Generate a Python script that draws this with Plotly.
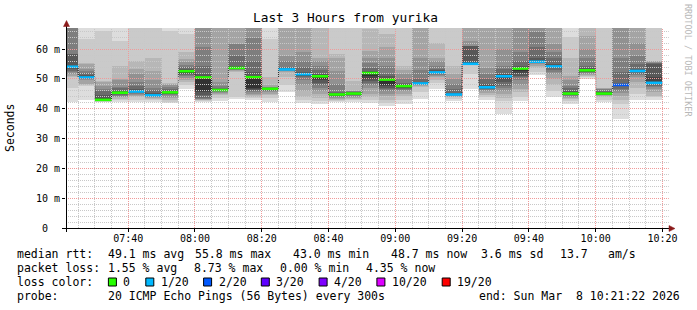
import math
import plotly.graph_objects as go
import pandas as pd

# ---------------- data ----------------
title_text = "Last 3 Hours from yurika"
x_start = "2026-03-08 07:21:22"
x_end = "2026-03-08 10:21:22"
# end time of each 5-minute measurement column
col_end = pd.date_range("2026-03-08 07:25", "2026-03-08 10:20", freq="5min")

median_ms = [54.1, 50.5, 43.0, 45.4, 45.8, 44.5, 45.5, 52.6, 50.5, 46.3,
             53.7, 50.6, 46.7, 53.2, 51.6, 50.9, 44.8, 45.1, 52.0, 49.8,
             47.6, 48.5, 52.2, 44.8, 55.1, 47.2, 50.9, 53.5, 55.8, 54.2,
             45.1, 52.9, 45.1, 48.0, 52.7, 48.7]
loss_count = [1, 1, 0, 0, 1, 1, 0, 0, 0, 0, 0, 0, 0, 1, 1, 0, 0, 0, 0, 0,
              0, 1, 1, 1, 1, 1, 1, 0, 1, 1, 0, 0, 0, 2, 1, 1]

# received ping round-trip times of each column (ms)
pings_ms = [
    [42.2, 47.0, 50.6, 51.0, 51.7, 52.2, 52.8, 53.3, 53.8, 54.1, 54.5, 58.3, 58.5, 69, 70, 71, 72, 74, 76],
    [43.0, 47.7, 48.0, 48.3, 49.6, 49.9, 50.1, 50.3, 50.4, 50.5, 50.7, 51.2, 52.0, 52.8, 53.2, 55.0, 55.4, 63.4, 69],
    [42.2, 42.4, 42.6, 42.7, 42.8, 42.85, 42.9, 42.95, 43.0, 43.0, 43.0, 43.5, 44.5, 46.0, 46.6, 47.5, 49.0, 49.4, 66.0, 69],
    [42.2, 42.8, 43.3, 43.8, 44.0, 44.4, 44.7, 45.0, 45.2, 45.3, 45.4, 45.6, 46.0, 47.0, 47.4, 49.5, 50.0, 54.4, 62.8, 69],
    [42.2, 43.0, 43.8, 44.2, 44.6, 45.0, 45.3, 45.5, 45.7, 45.8, 46.0, 46.6, 47.7, 49.0, 51.6, 53.5, 56.1, 68.5, 70],
    [42.3, 42.9, 43.3, 43.6, 43.9, 44.1, 44.2, 44.3, 44.4, 44.5, 44.8, 45.2, 46.2, 47.1, 49.5, 52.7, 57.2, 68.5, 70],
    [41.8, 42.4, 43.0, 43.6, 44.0, 44.5, 44.8, 45.0, 45.2, 45.4, 45.5, 45.7, 46.0, 46.5, 47.2, 48.0, 48.4, 48.8, 66.0, 69],
    [46.8, 48.0, 49.0, 49.6, 50.2, 51.0, 51.4, 51.7, 52.0, 52.3, 52.6, 52.9, 53.3, 54.0, 54.6, 55.6, 56.6, 58.9, 65.0, 69],
    [42.2, 42.5, 42.8, 43.0, 43.2, 43.4, 43.6, 44.5, 45.5, 46.0, 50.5, 50.8, 51.6, 54.4, 60.6, 69, 70, 72, 74, 76],
    [42.5, 43.5, 44.5, 45.0, 45.3, 45.6, 45.8, 46.0, 46.1, 46.2, 46.3, 46.5, 46.8, 47.1, 47.5, 49.0, 69, 70, 72, 74],
    [43.2, 44.0, 52.5, 52.7, 52.9, 53.0, 53.2, 53.3, 53.5, 53.6, 53.7, 54.0, 54.4, 57.8, 61.7, 61.8, 69, 71, 73, 75],
    [43.0, 43.5, 44.0, 44.5, 45.0, 45.5, 45.8, 46.2, 46.5, 47.0, 50.6, 51.0, 52.2, 56.1, 63.9, 69, 70, 72, 74, 76],
    [42.4, 43.5, 44.5, 45.0, 45.5, 45.9, 46.1, 46.3, 46.5, 46.6, 46.7, 46.9, 47.0, 47.1, 47.2, 47.4, 48.0, 50.5, 63.4, 69],
    [45.5, 48.0, 50.5, 52.4, 52.6, 52.8, 52.9, 53.0, 53.1, 53.2, 53.4, 53.8, 54.1, 56.0, 57.8, 69, 70, 72, 74],
    [42.0, 43.0, 44.0, 46.0, 48.0, 49.5, 50.5, 51.0, 51.3, 51.6, 51.9, 52.5, 54.0, 56.1, 58.9, 69, 70, 72, 74],
    [41.5, 42.5, 43.5, 45.0, 46.0, 47.0, 48.0, 48.8, 49.5, 50.0, 50.9, 51.2, 51.6, 53.0, 54.4, 56.0, 57.2, 69, 70, 72],
    [42.2, 42.6, 43.0, 43.4, 43.7, 44.0, 44.2, 44.4, 44.5, 44.7, 44.8, 45.0, 45.4, 45.5, 48.2, 52.7, 57.2, 58.3, 69, 70],
    [42.2, 42.8, 43.3, 43.7, 44.0, 44.3, 44.5, 44.7, 44.9, 45.0, 45.1, 45.3, 45.5, 45.7, 45.9, 46.0, 46.1, 49.4, 68.5, 70],
    [41.8, 43.0, 44.0, 45.0, 47.0, 48.0, 48.8, 49.4, 50.0, 51.0, 52.0, 52.3, 52.8, 53.8, 55.5, 57.2, 59.4, 66.7, 68.5, 70],
    [41.0, 42.0, 43.0, 44.3, 45.0, 45.8, 46.5, 47.1, 47.5, 48.0, 49.8, 50.3, 51.0, 51.6, 54.4, 57.0, 60.6, 65.0, 68.5, 70],
    [41.5, 43.0, 44.3, 45.0, 45.8, 46.3, 46.8, 47.1, 47.3, 47.5, 47.6, 47.9, 48.4, 48.8, 50.0, 51.6, 53.0, 54.4, 68.5, 70],
    [43.2, 45.5, 47.3, 47.8, 48.0, 48.1, 48.2, 48.3, 48.4, 48.5, 48.7, 49.0, 49.9, 53.0, 57.2, 69, 70, 72, 74],
    [46.5, 48.5, 49.5, 50.5, 51.0, 51.5, 51.8, 52.0, 52.1, 52.2, 52.5, 53.0, 53.5, 54.4, 56.0, 57.2, 62.0, 68.5, 70],
    [42.7, 43.3, 43.8, 44.1, 44.3, 44.5, 44.6, 44.7, 44.75, 44.8, 45.0, 45.4, 46.5, 48.2, 50.0, 51.6, 54.4, 68.5, 70],
    [46.5, 51.6, 54.6, 54.7, 54.8, 54.9, 54.95, 55.0, 55.05, 55.1, 55.5, 61.0, 61.1, 61.2, 62.8, 69, 70, 72, 74],
    [42.9, 43.8, 44.5, 45.4, 45.8, 46.2, 46.6, 46.8, 47.0, 47.2, 47.5, 48.2, 50.0, 51.6, 53.8, 69, 70, 72, 74],
    [38.2, 42.6, 43.5, 44.9, 46.0, 47.0, 47.7, 49.0, 50.0, 50.9, 51.3, 51.6, 53.3, 54.4, 60.0, 69, 70, 72, 74],
    [42.6, 44.0, 45.5, 46.6, 48.0, 49.5, 50.5, 51.0, 52.0, 52.9, 53.5, 53.8, 54.4, 56.0, 58.9, 69, 70, 72, 74, 76],
    [51.5, 52.5, 53.8, 54.5, 55.0, 55.3, 55.5, 55.6, 55.7, 55.8, 56.3, 57.2, 60.6, 65.6, 69, 70, 72, 74, 76],
    [43.8, 46.0, 48.0, 50.0, 51.6, 52.5, 53.0, 53.6, 54.0, 54.2, 54.5, 55.0, 57.0, 58.9, 61.7, 69, 70, 72, 74],
    [41.5, 42.5, 43.2, 43.6, 44.0, 44.3, 44.5, 44.7, 44.9, 45.0, 45.1, 45.4, 46.0, 47.0, 47.7, 49.5, 51.0, 57.2, 64.0, 69],
    [49.9, 50.5, 51.0, 51.5, 51.8, 52.0, 52.2, 52.4, 52.6, 52.7, 52.9, 53.2, 53.8, 54.4, 57.2, 60.0, 64.5, 69, 70, 72],
    [42.2, 43.0, 43.8, 44.2, 44.5, 44.7, 44.8, 44.9, 45.0, 45.05, 45.1, 45.3, 45.5, 46.0, 46.5, 46.8, 47.0, 47.1, 68.5, 70],
    [36.5, 41.5, 43.0, 44.3, 45.2, 46.0, 46.8, 47.5, 47.8, 48.0, 48.3, 52.2, 57.2, 69, 70, 72, 74, 76],
    [42.9, 44.9, 47.1, 49.0, 50.5, 51.3, 51.8, 52.2, 52.5, 52.7, 53.0, 53.5, 55.0, 57.8, 62.0, 69, 70, 72, 74],
    [42.9, 43.8, 44.3, 45.5, 46.6, 47.2, 47.8, 48.3, 48.5, 48.7, 50.5, 55.0, 55.2, 55.5, 55.8, 56.0, 56.1, 68.5, 70],
]

y_tickvals = [0, 10, 20, 30, 40, 50, 60]
y_ticktext = ["0\u00a0\u00a0", "10 m", "20 m", "30 m", "40 m", "50 m", "60 m"]
x_tickvals = pd.date_range("2026-03-08 07:40", "2026-03-08 10:20", freq="20min")
x_ticktext = ["07:40", "08:00", "08:20", "08:40", "09:00", "09:20", "09:40", "10:00", "10:20"]

loss_levels = [0, 1, 2, 3, 4, 10, 19]
loss_labels = ["0", "1/20", "2/20", "3/20", "4/20", "10/20", "19/20"]
loss_colors = ["#26ff00", "#00b8ff", "#0059ff", "#5e00ff", "#7e00ff", "#dd00ff", "#ff0000"]

rtt_stats = ["49.1 ms avg", "55.8 ms max", "43.0 ms min", "48.7 ms now", "3.6 ms sd", "13.7", "am/s"]
loss_stats = ["1.55 % avg", "8.73 % max", "0.00 % min", "4.35 % now"]
probe_text = "20 ICMP Echo Pings (56 Bytes) every 300s"
end_text = "end: Sun Mar\u00a0\u00a08 10:21:22 2026"

# ---------------- geometry ----------------
W, H = 697, 310
L, R, T, B = 66, 667, 28, 228
YMAX = 67.1
MONO = "DejaVu Sans Mono"
t0 = pd.Timestamp(x_start)
t1 = pd.Timestamp(x_end)


def px(xp):
    return (xp - L) / (R - L)


def py(yp):
    return (B - yp) / (B - T)


def crisp_x(t):
    xp = L + (t - t0) / (t1 - t0) * (R - L)
    return px(math.floor(xp) + 0.5)


def crisp_y(v):
    yp = B - v / YMAX * (B - T)
    return py(math.floor(yp) + 0.5)


step = pd.Timedelta(minutes=5)
col_start = col_end - step
col_center = col_end - step / 2

fig = go.Figure()

# ---------------- smoke ----------------
n_levels = 10
for i in range(1, n_levels + 1):
    bases, heights = [], []
    for s in pings_ms:
        s = sorted(s)
        n = len(s)
        if i <= n // 2:
            lo, hi = s[i - 1], min(s[n - i], YMAX + 2)
            bases.append(lo)
            heights.append(hi - lo)
        else:
            bases.append(None)
            heights.append(None)
    g = int(190 / 10 * (10 - i)) + 50
    col = "#%02x%02x%02x" % (g, g, g)
    fig.add_trace(go.Bar(x=col_center, y=heights, base=bases, width=step.total_seconds() * 1000,
                         marker=dict(color=col, line=dict(width=0)), hoverinfo="skip",
                         showlegend=False))

# ---------------- median step connector ----------------
fig.add_trace(go.Scatter(x=list(col_start) + [col_end[-1]], y=median_ms + [median_ms[-1]],
                         mode="lines", line=dict(color="#202020", width=1, shape="hv", dash="1px,1px"),
                         hoverinfo="skip", showlegend=False))

# ---------------- coloured medians ----------------
for lv, colr in zip(loss_levels, loss_colors):
    xs, ys = [], []
    for k, (m, lc) in enumerate(zip(median_ms, loss_count)):
        if lc == lv:
            xs += [col_start[k], col_end[k], None]
            ys += [m, m, None]
    if xs:
        fig.add_trace(go.Scatter(x=xs, y=ys, mode="lines", line=dict(color=colr, width=2.6),
                                 hoverinfo="skip", showlegend=False))

shapes = []
# ---------------- grid (above smoke) ----------------
MINOR = "#c8c8c8"
MAJOR = "#f09a9a"
for v in range(2, 67, 2):
    yy = crisp_y(v)
    shapes.append(dict(type="line", xref="paper", yref="paper", x0=0, x1=1.003, y0=yy, y1=yy, layer="above",
                       line=dict(color=MAJOR if v % 10 == 0 else MINOR, width=1, dash="1px,1px")))
grid_x = pd.date_range("2026-03-08 07:25", "2026-03-08 10:20", freq="5min")
for t in grid_x:
    major = (t.minute % 20 == 0)
    xx = crisp_x(t)
    shapes.append(dict(type="line", xref="paper", yref="paper", x0=xx, x1=xx, y0=0, y1=1, layer="above",
                       line=dict(color=MAJOR if major else MINOR, width=1, dash="1px,1px")))

# ---------------- axes lines + arrows ----------------
AX = "#000000"
ARW = "#8b1a1a"
shapes.append(dict(type="line", xref="paper", yref="paper", x0=px(62), x1=px(671), y0=py(228.5), y1=py(228.5),
                   line=dict(color=AX, width=1), layer="above"))
shapes.append(dict(type="line", xref="paper", yref="paper", x0=px(66.5), x1=px(66.5), y0=py(232), y1=py(24),
                   line=dict(color=AX, width=1), layer="above"))
shapes.append(dict(type="path", xref="paper", yref="paper",
                   path="M %f %f L %f %f L %f %f Z" % (px(63.5), py(26.5), px(69.5), py(26.5), px(66.5), py(20.5)),
                   fillcolor=ARW, line=dict(color=ARW, width=0.5), layer="above"))
shapes.append(dict(type="path", xref="paper", yref="paper",
                   path="M %f %f L %f %f L %f %f Z" % (px(669), py(225.5), px(669), py(231.5), px(675), py(228.5)),
                   fillcolor=ARW, line=dict(color=ARW, width=0.5), layer="above"))

annotations = []


def text(s, xp, yp, size=11.5, color="#000000", anchor="left", angle=0):
    annotations.append(dict(text=s.replace(" ", "\u00a0"), xref="paper", yref="paper", x=px(xp), y=py(yp),
                            xanchor=anchor, yanchor="middle", showarrow=False, textangle=angle,
                            font=dict(family=MONO, size=size, color=color), borderpad=0))


text(title_text, 345, 18, size=12.8, anchor="center")
text("Seconds", 10, 128, size=11.5, anchor="center", angle=-90)
text("RRDTOOL / TOBI OETIKER", 688, 60, size=8.5, color="#b8b8b8", anchor="center", angle=90)

# legend line 1
text("median rtt:", 15.5, 254)
for s, xp in zip(rtt_stats, [107, 194, 291.5, 390, 480, 559, 607]):
    text(s, xp, 254)
# legend line 2
text("packet loss:", 15.5, 268)
for s, xp in zip(loss_stats, [107, 193, 279, 365]):
    text(s, xp, 268)
# legend line 3
text("loss color:", 15.5, 282)
for lbl, colr, bx in zip(loss_labels, loss_colors, [108.4, 145.8, 203.6, 261.3, 319.1, 376.9, 442.2]):
    shapes.append(dict(type="rect", xref="paper", yref="paper", x0=px(bx), x1=px(bx + 8),
                       y0=py(286), y1=py(278), fillcolor=colr, line=dict(color="#000000", width=1)))
    text(lbl, bx + 14, 282)
# legend line 4
text("probe:", 15.5, 296)
text(probe_text, 107, 296)
text(end_text, 477.5, 296)

fig.update_layout(
    width=W, height=H, autosize=False,
    margin=dict(l=L, r=W - R, t=T, b=H - B, pad=0),
    paper_bgcolor="#ffffff", plot_bgcolor="#ffffff",
    barmode="overlay", bargap=0,
    shapes=shapes, annotations=annotations,
    font=dict(family=MONO, size=10, color="#000000"),
    xaxis=dict(type="date", range=[x_start, x_end], showgrid=False, zeroline=False, showline=False,
               tickvals=x_tickvals, ticktext=x_ticktext, ticks="outside", ticklen=3,
               ticklabelstandoff=-2,
               tickcolor="#000000", tickfont=dict(family=MONO, size=10, color="#000000"),
               fixedrange=True),
    yaxis=dict(range=[0, YMAX], showgrid=False, zeroline=False, showline=False,
               tickvals=y_tickvals, ticktext=y_ticktext, ticks="outside", ticklen=3,
               tickcolor="#000000", tickfont=dict(family=MONO, size=10, color="#000000"),
               fixedrange=True),
    showlegend=False,
)

fig.write_html("out.html")
